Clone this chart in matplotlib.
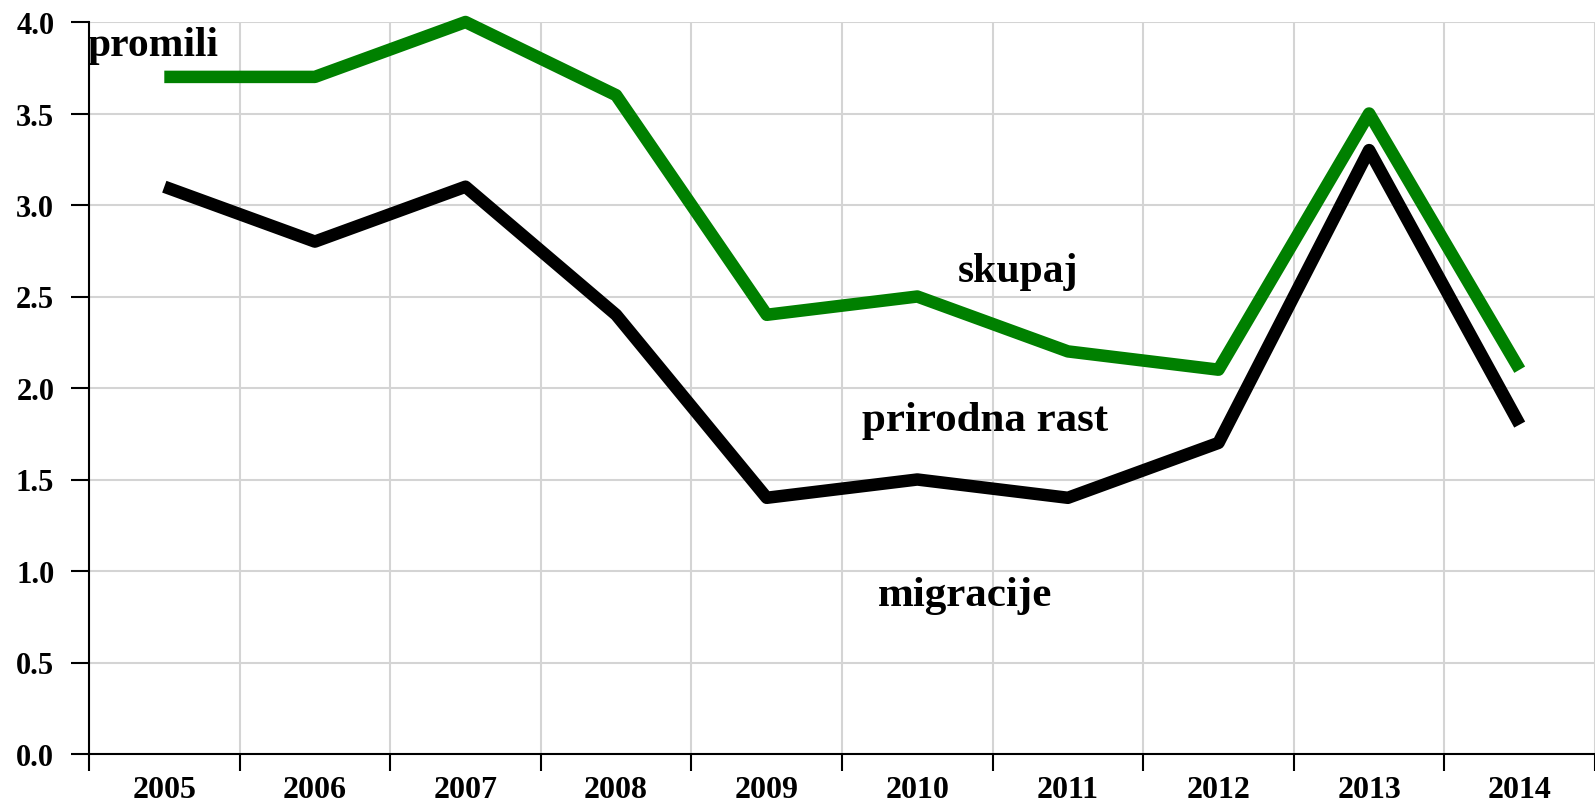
import matplotlib
matplotlib.use("Agg")
import matplotlib.pyplot as plt
import numpy as np

years = ["2005", "2006", "2007", "2008", "2009", "2010", "2011", "2012", "2013", "2014"]
skupaj = [3.7, 3.7, 4.0, 3.6, 2.4, 2.5, 2.2, 2.1, 3.5, 2.1]
prirodna = [3.1, 2.8, 3.1, 2.4, 1.4, 1.5, 1.4, 1.7, 3.3, 1.8]
yticks = [0.0, 0.5, 1.0, 1.5, 2.0, 2.5, 3.0, 3.5, 4.0]

plt.rcParams["font.family"] = ["Liberation Serif", "DejaVu Serif"]
plt.rcParams["font.weight"] = "bold"

W, H = 1595, 804
fig = plt.figure(figsize=(W / 100, H / 100), dpi=100)
ax = fig.add_axes([89 / W, (H - 755) / H, (W - 89) / W, (755 - 23) / H])

x = np.arange(len(years))
ax.plot(x, skupaj, color="#008000", lw=9, solid_joinstyle="round",
        solid_capstyle="butt", zorder=3, clip_on=False)
ax.plot(x, prirodna, color="black", lw=9, solid_joinstyle="round",
        solid_capstyle="butt", zorder=3, clip_on=False)

ax.set_xlim(-0.5, (W - 89) / 152 - 0.5)
ax.set_ylim(0, 4.0)

# boundaries between years carry the ticks and gridlines
ax.set_xticks(np.arange(len(years) + 1) - 0.5)
ax.set_xticklabels([])
ax.set_xticks(x, minor=True)
ax.set_xticklabels(years, minor=True, fontsize=23, fontweight="bold")
ax.tick_params(axis="x", which="major", length=12, width=1.5, direction="out")
ax.tick_params(axis="x", which="minor", length=0, pad=15)

ax.set_yticks(yticks)
ax.set_yticklabels([f"{v:.1f}" for v in yticks], fontsize=22, fontweight="bold")
ax.tick_params(axis="y", length=13, width=1.5, pad=12)

ax.grid(True, which="major", color="#d4d4d4", lw=1.5, zorder=0)
ax.set_axisbelow(True)

for s in ["top", "right"]:
    ax.spines[s].set_visible(False)
for s in ["left", "bottom"]:
    ax.spines[s].set_linewidth(1.5)

# text labels in the plot
fig.text(88 / W, 1 - 46 / H, "promili", fontsize=30, fontweight="bold", va="center", ha="left")
ax.text(5.67, 2.64, "skupaj", fontsize=30, fontweight="bold", ha="center", va="center")
ax.text(5.45, 1.825, "prirodna rast", fontsize=31, fontweight="bold", ha="center", va="center")
ax.text(5.32, 0.87, "migracije", fontsize=31, fontweight="bold", ha="center", va="center")

fig.savefig("out.png", dpi=100)
